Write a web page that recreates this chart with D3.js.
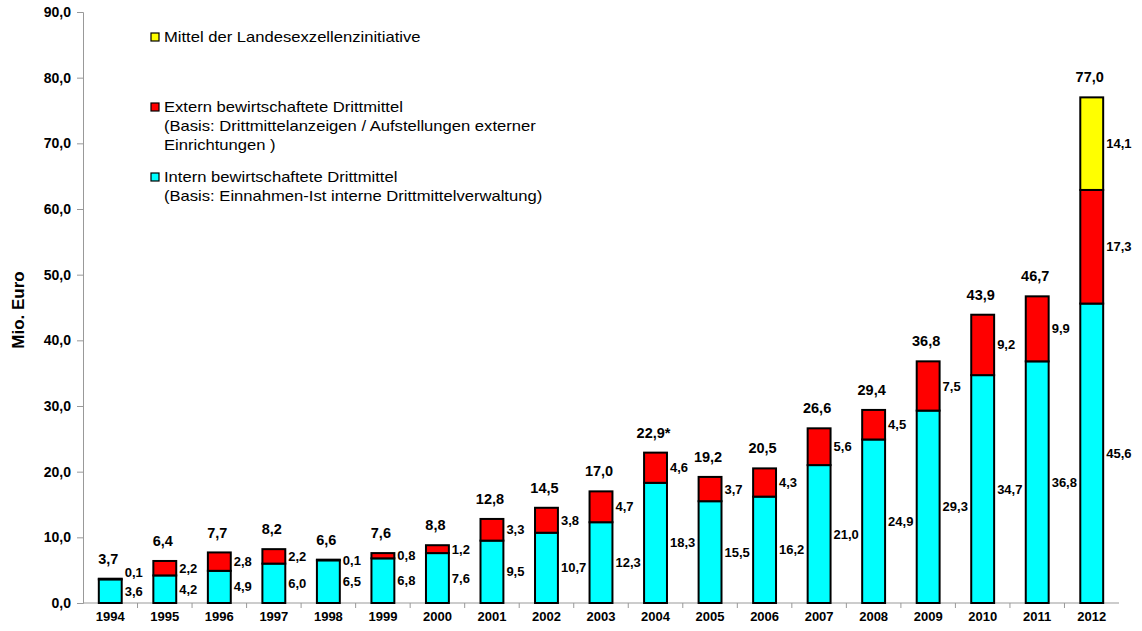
<!DOCTYPE html>
<html>
<head>
<meta charset="utf-8">
<script src="https://cdn.jsdelivr.net/npm/d3@7"></script>
<style>
  body { margin: 0; background: #fff; }
  svg text { font-family: "Liberation Sans", Arial, sans-serif; fill: #000; }
</style>
</head>
<body>
<div id="chart"></div>
<script>
const years = ['1994','1995','1996','1997','1998','1999','2000','2001','2002','2003','2004','2005','2006','2007','2008','2009','2010','2011','2012'];
const intern = [3.6, 4.2, 4.9, 6.0, 6.5, 6.8, 7.6, 9.5, 10.7, 12.3, 18.3, 15.5, 16.2, 21.0, 24.9, 29.3, 34.7, 36.8, 45.6];
const extern = [0.1, 2.2, 2.8, 2.2, 0.1, 0.8, 1.2, 3.3, 3.8, 4.7, 4.6, 3.7, 4.3, 5.6, 4.5, 7.5, 9.2, 9.9, 17.3];
const landes = [0, 0, 0, 0, 0, 0, 0, 0, 0, 0, 0, 0, 0, 0, 0, 0, 0, 0, 14.1];
const totals = [3.7, 6.4, 7.7, 8.2, 6.6, 7.6, 8.8, 12.8, 14.5, 17.0, 22.9, 19.2, 20.5, 26.6, 29.4, 36.8, 43.9, 46.7, 77.0];
const footnote = ['', '', '', '', '', '', '', '', '', '', '*', '', '', '', '', '', '', '', ''];
const yTicks = [0, 10, 20, 30, 40, 50, 60, 70, 80, 90];

const keys = ['intern', 'extern', 'landes'];
const colors = {intern: '#00ffff', extern: '#ff0000', landes: '#ffff00'};
const legendItems = [
  {key: 'landes', lines: ['Mittel der Landesexzellenzinitiative'], y: 37},
  {key: 'extern', lines: ['Extern bewirtschaftete Drittmittel', '(Basis: Drittmittelanzeigen / Aufstellungen externer', 'Einrichtungen )'], y: 107},
  {key: 'intern', lines: ['Intern bewirtschaftete Drittmittel', '(Basis: Einnahmen-Ist interne Drittmittelverwaltung)'], y: 177}
];

const W = 1142, H = 631;
const fmt = v => d3.format('.1f')(v).replace('.', ',');

const rows = years.map((y, i) => ({year: y, intern: intern[i], extern: extern[i], landes: landes[i]}));
const series = d3.stack().keys(keys)(rows);

const svg = d3.select('#chart').append('svg').attr('width', W).attr('height', H);

const x = d3.scaleBand().domain(years).range([83, 1119]).paddingInner(0.58).paddingOuter(0.29);
const y = d3.scaleLinear().domain([0, 90]).range([603, 12]);

// y axis
const yAxis = svg.append('g')
  .attr('transform', 'translate(83,0)')
  .call(d3.axisLeft(y).tickValues(yTicks).tickSize(6).tickPadding(6).tickFormat(fmt));
yAxis.selectAll('path, line').attr('stroke', '#999');
yAxis.selectAll('text').style('font-size', '14px').style('font-weight', 'bold');

// x axis
const xAxis = svg.append('g')
  .attr('transform', 'translate(0,603)')
  .call(d3.axisBottom(x).tickSize(0).tickPadding(9));
xAxis.select('path').attr('stroke', '#999').attr('d', 'M83,0H1119');
xAxis.selectAll('text').style('font-size', '13px').style('font-weight', 'bold');
const step = x.step();
xAxis.selectAll('.sep')
  .data(years.slice(1))
  .enter().append('line')
  .attr('class', 'sep')
  .attr('x1', d => x(d) - (step - x.bandwidth()) / 2)
  .attr('x2', d => x(d) - (step - x.bandwidth()) / 2)
  .attr('y1', 0).attr('y2', 5)
  .attr('stroke', '#999');

svg.append('text')
  .attr('transform', 'translate(24,310) rotate(-90)')
  .attr('text-anchor', 'middle')
  .style('font-size', '17px')
  .style('font-weight', 'bold')
  .text('Mio. Euro');

// bars
svg.append('g').selectAll('g')
  .data(series)
  .enter().append('g')
  .attr('fill', s => colors[s.key])
  .selectAll('rect')
  .data(s => s.filter(d => d[1] - d[0] > 0))
  .enter().append('rect')
  .attr('x', d => x(d.data.year))
  .attr('width', x.bandwidth())
  .attr('y', d => y(d[1]))
  .attr('height', d => y(d[0]) - y(d[1]))
  .attr('stroke', '#000')
  .attr('stroke-width', 2);

// segment labels
const labels = svg.append('g').style('font-size', '13px').style('font-weight', 'bold');
rows.forEach((r, i) => {
  const lx = x(r.year) + x.bandwidth() + 3;
  const iy = y(r.intern / 2);
  labels.append('text').attr('x', lx).attr('y', iy).attr('dy', '0.35em').text(fmt(r.intern));
  const ey = Math.min(y(r.intern + r.extern / 2), iy - 19);
  labels.append('text').attr('x', lx).attr('y', ey).attr('dy', '0.35em').text(fmt(r.extern));
  if (r.landes > 0) {
    labels.append('text').attr('x', lx).attr('y', y(r.intern + r.extern + r.landes / 2)).attr('dy', '0.35em').text(fmt(r.landes));
  }
});

// totals
svg.append('g').selectAll('text')
  .data(years)
  .enter().append('text')
  .attr('x', d => x(d) + x.bandwidth() / 2 - 2)
  .attr('y', (d, i) => y(totals[i]) - 20)
  .attr('dy', '0.35em')
  .attr('text-anchor', 'middle')
  .style('font-size', '14.5px')
  .style('font-weight', 'bold')
  .text((d, i) => fmt(totals[i]) + footnote[i]);

// legend (text is a bit stretched in the original)
const lg = svg.append('g');
legendItems.forEach(it => {
  lg.append('rect')
    .attr('x', 151).attr('y', it.y - 4)
    .attr('width', 8).attr('height', 8)
    .attr('fill', colors[it.key])
    .attr('stroke', '#000').attr('stroke-width', 1.2);
  it.lines.forEach((t, j) => {
    lg.append('text')
      .attr('transform', `translate(164,${it.y + j * 19}) scale(1.17,1)`)
      .attr('dy', '0.35em')
      .style('font-size', '14.2px')
      .text(t);
  });
});
</script>
</body>
</html>
